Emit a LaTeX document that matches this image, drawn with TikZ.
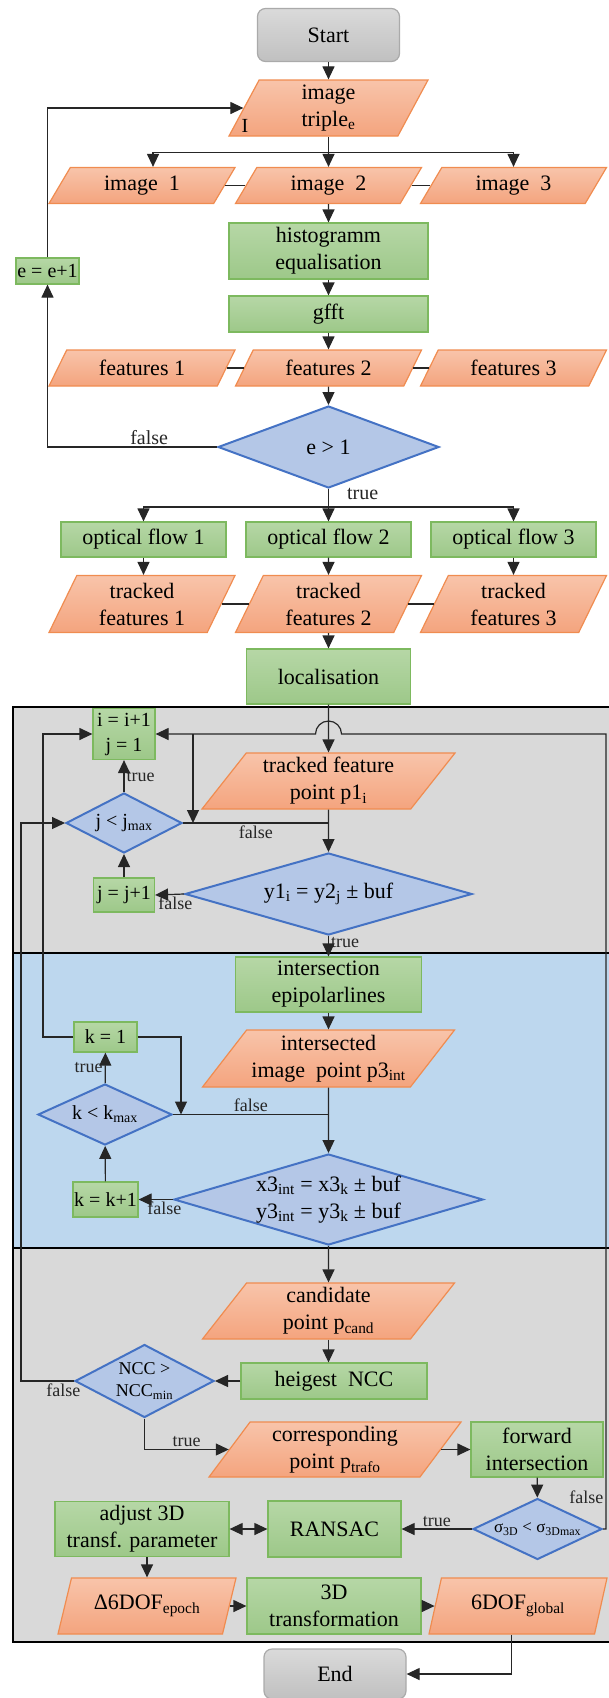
\documentclass[tikz,border=0pt]{standalone}
\usepackage{fontspec}
\setmainfont{Liberation Serif}
\usepackage{xcolor}
\usetikzlibrary{arrows.meta,shapes.geometric}

\definecolor{iotop}{RGB}{248,196,170}
\definecolor{iobot}{RGB}{244,164,126}
\definecolor{ioline}{RGB}{240,140,80}
\definecolor{proctop}{RGB}{182,215,166}
\definecolor{procbot}{RGB}{157,200,137}
\definecolor{procline}{RGB}{125,185,95}
\definecolor{decfill}{RGB}{180,199,231}
\definecolor{decline}{RGB}{68,114,196}
\definecolor{termtop}{RGB}{218,218,218}
\definecolor{termbot}{RGB}{192,192,192}
\definecolor{termline}{RGB}{170,170,170}
\definecolor{secgray}{RGB}{217,217,217}
\definecolor{secblue}{RGB}{189,215,238}

\tikzset{
  base/.style={font=\fontsize{22}{27}\selectfont, align=center, inner sep=1pt},
  smalltxt/.style={font=\fontsize{20}{25}\selectfont},
  term/.style={base, rectangle, rounded corners=8pt, draw=termline, top color=termtop, bottom color=termbot, line width=1.2pt},
  proc/.style={base, rectangle, draw=procline, top color=proctop, bottom color=procbot, line width=1.2pt},
  io/.style={base, trapezium, trapezium left angle=#1, trapezium right angle=180-#1, trapezium stretches body,
    draw=ioline, top color=iotop, bottom color=iobot, line width=1.2pt},
  decision/.style={base, diamond, draw=decline, fill=decfill, line width=2pt, inner sep=0pt},
  lbl/.style={font=\fontsize{18}{20}\selectfont, inner sep=2pt},
  lblbig/.style={font=\fontsize{20}{22}\selectfont, inner sep=2pt},
  arr/.style={-{Triangle[length=13pt,width=12pt]}, line width=1.2pt, black!85},
  arrboth/.style={{Triangle[length=13pt,width=12pt]}-{Triangle[length=13pt,width=12pt]}, line width=1.2pt, black!85},
  link/.style={line width=1.2pt, black!85},
  section/.style={draw=black, line width=2pt}
}

\begin{document}
\begin{tikzpicture}[x=1pt,y=-1pt]
\useasboundingbox (0,0) rectangle (608,1698);

% sections of the matching loop
\draw[section, fill=secgray] (13,707) rectangle (614,953);
\draw[section, fill=secblue] (13,953) rectangle (614,1248);
\draw[section, fill=secgray] (13,1248) rectangle (614,1642);

% image triple and features
\node[term, minimum width=142pt, minimum height=53pt] (start) at (328.5,35) {Start};
\node[io=58, minimum width=199pt, minimum height=56pt] (triple) at (328.5,108) {image\\triple\textsubscript{e}};
\node[lblbig] (tripI) at (245,126) {I};
\node[io=45, minimum width=186pt, minimum height=36pt] (img1) at (142,185.5) {image\ \ 1};
\node[io=45, minimum width=186pt, minimum height=36pt] (img2) at (328.5,185.5) {image\ \ 2};
\node[io=45, minimum width=186pt, minimum height=36pt] (img3) at (513.5,185.5) {image\ \ 3};
\node[proc, minimum width=199pt, minimum height=56pt] (hist) at (328.5,251) {histogramm\\equalisation};
\node[proc, minimum width=199pt, minimum height=36pt] (gfft) at (328.5,314) {gfft};
\node[io=45, minimum width=186pt, minimum height=36pt] (feat1) at (142,368) {features 1};
\node[io=45, minimum width=186pt, minimum height=36pt] (feat2) at (328.5,368) {features 2};
\node[io=45, minimum width=186pt, minimum height=36pt] (feat3) at (513.5,368) {features 3};
\node[decision, minimum width=221pt, minimum height=82pt, aspect=2.7] (econd) at (328.5,447) {e > 1};
\node[proc, smalltxt, minimum width=63pt, minimum height=26pt] (eplus) at (47.5,271) {e = e+1};
\node[proc, minimum width=165pt, minimum height=35pt] (of1) at (143.5,539.5) {optical flow 1};
\node[proc, minimum width=165pt, minimum height=35pt] (of2) at (328.5,539.5) {optical flow 2};
\node[proc, minimum width=165pt, minimum height=35pt] (of3) at (513.5,539.5) {optical flow 3};
\node[io=58, minimum width=186pt, minimum height=57pt] (trk1) at (142,604) {tracked\\features 1};
\node[io=58, minimum width=186pt, minimum height=57pt] (trk2) at (328.5,604) {tracked\\features 2};
\node[io=58, minimum width=186pt, minimum height=57pt] (trk3) at (513.5,604) {tracked\\features 3};
\node[proc, minimum width=164pt, minimum height=55pt] (loc) at (328.5,676.5) {localisation};

% row search
\node[proc, smalltxt, minimum width=62pt, minimum height=51pt] (iinc) at (124,734) {i = i+1\\j = 1};
\node[decision, smalltxt, minimum width=116pt, minimum height=60pt, aspect=1.93] (jcond) at (124,823) {j < j\textsubscript{max}};
\node[proc, smalltxt, minimum width=61pt, minimum height=34pt] (jinc) at (124,895) {j = j+1};
\node[io=48, minimum width=253pt, minimum height=56pt] (pt1) at (328.5,781) {tracked feature\\point p1\textsubscript{i}};
\node[decision, minimum width=287pt, minimum height=82pt, aspect=3.5] (ycond) at (328.5,894) {y1\textsubscript{i} = y2\textsubscript{j} ± buf};

% epipolar intersection
\node[proc, minimum width=186pt, minimum height=55pt] (epi) at (328.5,984.5) {intersection\\epipolarlines};
\node[io=48, minimum width=252pt, minimum height=57pt] (p3) at (328.5,1058.5) {intersected\\image\ \ point p3\textsubscript{int}};
\node[proc, smalltxt, minimum width=63pt, minimum height=30pt] (kset) at (105.5,1037) {k = 1};
\node[decision, smalltxt, minimum width=134pt, minimum height=61pt, aspect=2.2] (kcond) at (105,1114.5) {k < k\textsubscript{max}};
\node[proc, smalltxt, minimum width=65pt, minimum height=35pt] (kinc) at (105.5,1199.5) {k = k+1};
\node[decision, minimum width=309pt, minimum height=91pt, aspect=3.4] (xcond) at (328.5,1199.5) {x3\textsubscript{int} = x3\textsubscript{k} ± buf\\y3\textsubscript{int} = y3\textsubscript{k} ± buf};

% matching and transformation
\node[io=48, minimum width=252pt, minimum height=56pt] (cand) at (328.5,1311) {candidate\\point p\textsubscript{cand}};
\node[proc, minimum width=186pt, minimum height=36pt] (ncc) at (334,1381) {heigest\ \ NCC};
\node[decision, font=\fontsize{18}{22}\selectfont, minimum width=139pt, minimum height=73pt, aspect=1.9] (ncccond) at (144.5,1381) {NCC >\\NCC\textsubscript{min}};
\node[io=50, minimum width=252pt, minimum height=55pt] (corr) at (335,1449.5) {corresponding\\point p\textsubscript{trafo}};
\node[proc, minimum width=132pt, minimum height=55pt] (fwd) at (537,1449.5) {forward\\intersection};
\node[decision, font=\fontsize{17}{20}\selectfont, minimum width=129pt, minimum height=61pt, aspect=2.1] (sigcond) at (537.5,1529) {\makebox[0pt]{σ\textsubscript{3D} < σ\textsubscript{3Dmax}}};
\node[proc, minimum width=133pt, minimum height=56pt] (ransac) at (334.5,1529) {RANSAC};
\node[proc, minimum width=174pt, minimum height=55pt] (adjust) at (142,1529) {adjust 3D\\transf. parameter};
\node[io=60, minimum width=178pt, minimum height=56pt] (d6dof) at (147,1606) {Δ6DOF\textsubscript{epoch}};
\node[proc, minimum width=174pt, minimum height=56pt] (trafo) at (334,1606) {3D\\transformation};
\node[io=62, minimum width=178pt, minimum height=56pt] (g6dof) at (518,1606) {6DOF\textsubscript{global}};
\node[term, minimum width=142pt, minimum height=50pt] (end) at (335,1674) {End};

% helper points
\path (triple.south) ++(0,16) coordinate (split1);
\path (econd.south) ++(0,18) coordinate (split2);
\coordinate (retR) at (606,734);
\coordinate (jbr) at (193,734);
\coordinate (kbr) at (181,1114.5);
\coordinate (lpI) at (43,734);
\coordinate (lpJ) at (21,823);

% connectors, upper part
\draw[arr] (start) -- (triple);
\draw[link] (triple.south) -- (split1);
\draw[arr] (split1) -| (img1.top side);
\draw[arr] (split1) -- (img2);
\draw[arr] (split1) -| (img3.north);
\draw[link] (img1.right side) -- (img2.left side);
\draw[link] (img2.right side) -- (img3.left side);
\draw[arr] (img2) -- (hist);
\draw[arr] (hist) -- (gfft);
\draw[arr] (gfft) -- (feat2);
\draw[link] (feat1.right side) -- (feat2.left side);
\draw[link] (feat2.right side) -- (feat3.left side);
\draw[arr] (feat2) -- (econd);
\draw[arr] (econd.west) -| (eplus.south) node[lblbig, pos=0.2, above] {false};
\draw[arr] (eplus.north) |- (triple.left side);
\draw[link] (econd.south) -- (split2) node[lblbig, pos=0.25, right, xshift=16pt] {true};
\draw[arr] (split2) -| (of1.north);
\draw[arr] (split2) -- (of2);
\draw[arr] (split2) -| (of3.north);
\draw[arr] (of1.south) -- (of1.south |- trk1.north);
\draw[arr] (of2) -- (trk2);
\draw[arr] (of3.south) -- (of3.south |- trk3.north);
\draw[link] (trk1.right side) -- (trk2.left side);
\draw[link] (trk2.right side) -- (trk3.left side);
\draw[arr] (trk2) -- (loc);

% connectors, loops
\draw[arr] (loc) -- (pt1);
\draw[arr] (sigcond.east) -| (retR) node[lbl, pos=0.52, left] {false}
  -- ([xshift=13pt]pt1.north |- retR) arc[start angle=0, end angle=180, radius=13pt] -- (iinc.east);
\draw[arr] (jbr) -- (jbr |- jcond.east);
\draw[arr] (jcond) -- (iinc) node[lbl, midway, right] {true};
\draw[link] (jcond.east) -- (pt1.south |- jcond.east) node[lbl, midway, below] {false};
\draw[arr] (pt1) -- (ycond);
\draw[arr] (ycond.west) -- (jinc.east) node[lbl, pos=0.3, below] {false};
\draw[arr] (jinc) -- (jcond);
\draw[arr] (ycond) -- (epi) node[lbl, pos=0.3, right] {true};
\draw[arr] (epi) -- (p3);
\draw[arr] (p3) -- (xcond);
\draw[link] (kcond.east) -- (p3.south |- kcond.east) node[lbl, midway, above] {false};
\draw[arr] (kset.east) -| (kbr);
\draw[arr] (kset.west) -| (lpI) -- (iinc.west);
\draw[arr] (kcond) -- (kset) node[lbl, midway, left] {true};
\draw[arr] (xcond.west) -- (kinc.east) node[lbl, pos=0.25, below] {false};
\draw[arr] (kinc) -- (kcond);
\draw[arr] (xcond) -- (cand);
\draw[arr] (cand.south) -- (cand.south |- ncc.north);
\draw[arr] (ncc.west) -- (ncccond.east);
\draw[arr] (ncccond.west) -| (lpJ) node[lbl, pos=0.1, below] {false} -- (jcond.west);
\draw[arr] (ncccond.south) |- (corr.left side) node[lbl, pos=0.75, above] {true};
\draw[arr] (corr.right side) -- (fwd.west);
\draw[arr] (fwd) -- (sigcond);
\draw[arr] (sigcond.west) -- (ransac.east) node[lbl, midway, above] {true};
\draw[arrboth] (adjust) -- (ransac);
\draw[arr] (adjust.south -| d6dof.north) -- (d6dof.north);
\draw[arr] (d6dof.right side) -- (trafo.west);
\draw[arr] (trafo.east) -- (g6dof.left side);
\draw[arr] (g6dof.bottom side) |- (end.east);
\end{tikzpicture}
\end{document}
